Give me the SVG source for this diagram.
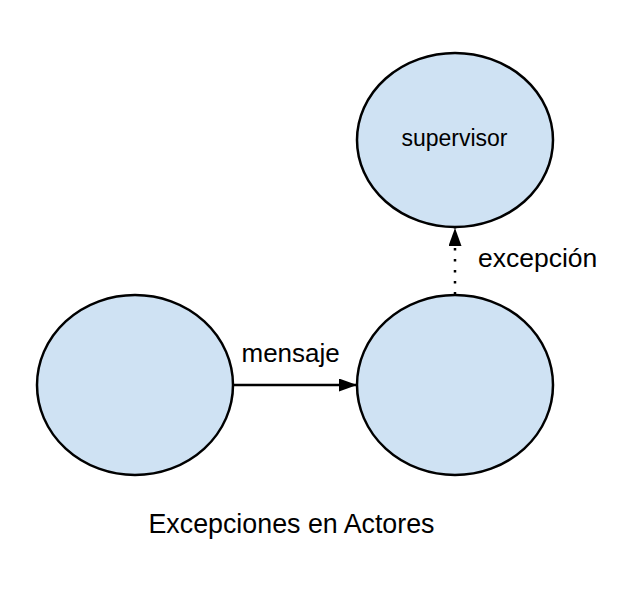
<svg xmlns="http://www.w3.org/2000/svg" width="629" height="598" viewBox="0 0 629 598">
  <style>
    .node { fill: #cfe2f3; stroke: #000; stroke-width: 2.5; }
    .lbl { font-family: "Liberation Sans", Arial, sans-serif; fill: #000; }
    .conn { stroke: #000; stroke-width: 2.5; fill: none; }
  </style>
  <defs>
    <marker id="arrow" markerUnits="userSpaceOnUse" markerWidth="19" markerHeight="13" refX="18" refY="6.5" orient="auto">
      <path d="M0,0 L18,6.5 L0,13 z" fill="#000"/>
    </marker>
  </defs>
  <rect width="629" height="598" fill="#fff"/>
  <g id="connectors">
    <g id="edge-mensaje">
      <line class="conn" x1="233" y1="385" x2="357" y2="385" marker-end="url(#arrow)"/>
      <text class="lbl" x="241.5" y="362" font-size="26">mensaje</text>
    </g>
    <g id="edge-excepcion">
      <line class="conn" x1="455" y1="294.5" x2="455" y2="228" stroke-dasharray="2.5 8.5" marker-end="url(#arrow)"/>
      <text class="lbl" x="478" y="267" font-size="26.5">excepción</text>
    </g>
  </g>
  <g id="node-sender">
    <ellipse class="node" cx="135" cy="385" rx="98" ry="90"/>
  </g>
  <g id="node-receiver">
    <ellipse class="node" cx="455" cy="385" rx="98" ry="90"/>
  </g>
  <g id="node-supervisor">
    <ellipse class="node" cx="455" cy="140" rx="98" ry="87"/>
    <text class="lbl" x="454.5" y="146" font-size="23" text-anchor="middle">supervisor</text>
  </g>
  <g id="caption">
    <text class="lbl" x="291.5" y="533" font-size="26.8" text-anchor="middle">Excepciones en Actores</text>
  </g>
</svg>
